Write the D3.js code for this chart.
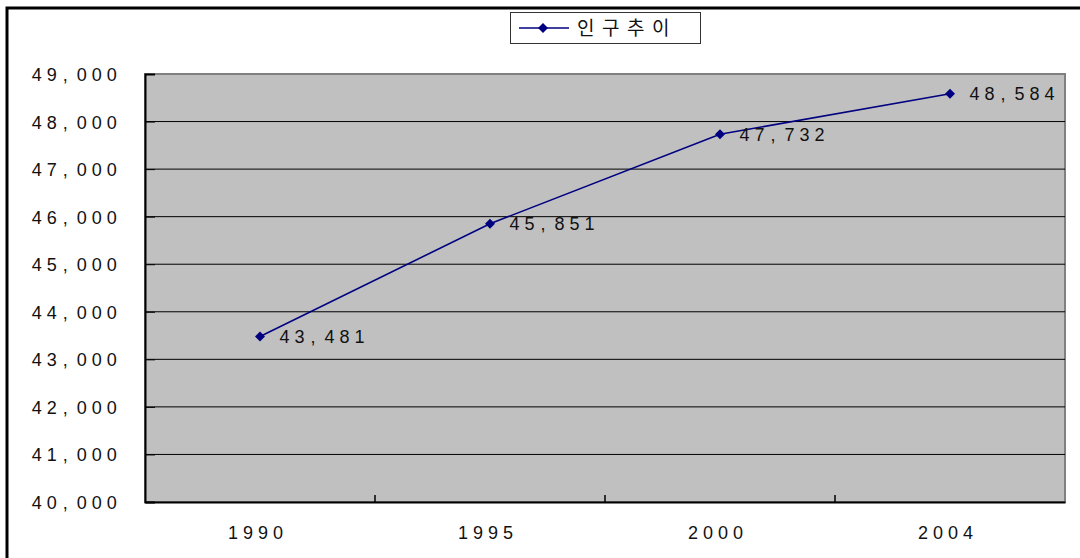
<!DOCTYPE html>
<html>
<head>
<meta charset="utf-8">
<script src="https://cdn.jsdelivr.net/npm/d3@7"></script>
<style>
  html, body { margin: 0; padding: 0; background: #fff; }
  svg { display: block; }
  text { font-family: "Liberation Sans", Arial, sans-serif; fill: #111; }
</style>
</head>
<body>
<svg id="chart" width="1080" height="558"></svg>
<script>
// Population trend (인구 추이)
const years = ["1990", "1995", "2000", "2004"];
const population = [43481, 45851, 47732, 48584];
const yTicks = [40000, 41000, 42000, 43000, 44000, 45000, 46000, 47000, 48000, 49000];
const seriesName = "인구추이";

const svg = d3.select("#chart");
const W = 1080, H = 558;
const plot = { left: 145, right: 1065, top: 74, bottom: 502 };
const PITCH = 15;          // fixed character cell width for numeric labels
const NUM_SIZE = "18px";

const x = d3.scaleBand().domain(years).range([plot.left, plot.right]).paddingInner(0).paddingOuter(0);
const y = d3.scaleLinear().domain([40000, 49000]).range([plot.bottom, plot.top]);
const fmt = d3.format(",");

// lay out a string in fixed-width cells; firstCenter = centre of first cell
function cells(textSel, str, firstCenter, yPos) {
  textSel.text(null)
    .style("font-size", NUM_SIZE)
    .attr("text-anchor", null);
  textSel.selectAll("tspan")
    .data(str.split(""))
    .join("tspan")
    .attr("x", (c, i) => firstCenter + i * PITCH + (c === "," ? -1.5 : 0))
    .attr("y", yPos)
    .attr("dy", "0.36em")
    .attr("text-anchor", "middle")
    .text(c => c);
}

// outer frame (top and left edges)
svg.append("path")
  .attr("d", `M7,${H} L7,8 L${W},8`)
  .attr("fill", "none").attr("stroke", "#000").attr("stroke-width", 3);

// plot background
svg.append("rect")
  .attr("x", plot.left).attr("y", plot.top)
  .attr("width", plot.right - plot.left).attr("height", plot.bottom - plot.top)
  .attr("fill", "#c0c0c0").attr("stroke", "#808080").attr("stroke-width", 2);

// horizontal gridlines
svg.append("g").selectAll("line")
  .data(yTicks.filter(v => v > 40000 && v < 49000))
  .join("line")
  .attr("x1", plot.left).attr("x2", plot.right)
  .attr("y1", d => y(d)).attr("y2", d => y(d))
  .attr("stroke", "#000").attr("stroke-width", 1);

// y axis
const yAxis = d3.axisLeft(y).tickValues(yTicks).tickSize(-10).tickFormat(fmt).tickPadding(0);
const gy = svg.append("g").attr("transform", `translate(${plot.left},0)`).call(yAxis);
gy.select(".domain").attr("stroke", "#000").attr("stroke-width", 2);
gy.selectAll(".tick line").attr("stroke", "#000");
gy.selectAll(".tick text").each(function (d) {
  const s = fmt(d);
  cells(d3.select(this), s, -33.3 - (s.length - 1) * PITCH, 0);
});

// x axis
const xAxis = d3.axisBottom(x).tickSize(0).tickPadding(0);
const gx = svg.append("g").attr("transform", `translate(0,${plot.bottom})`).call(xAxis);
gx.select(".domain").attr("stroke", "#000").attr("stroke-width", 2);
gx.selectAll(".tick text").each(function (d) {
  cells(d3.select(this), d, -4.5 - (d.length - 1) * PITCH / 2, 31);
});

// category boundary ticks
svg.append("g").selectAll("line")
  .data(years.slice(1))
  .join("line")
  .attr("x1", d => x(d)).attr("x2", d => x(d))
  .attr("y1", plot.bottom).attr("y2", plot.bottom - 7)
  .attr("stroke", "#000").attr("stroke-width", 1.5);

// series line
const cx = d => x(d) + x.bandwidth() / 2;
const line = d3.line().x((d, i) => cx(years[i])).y(d => y(d));
svg.append("path")
  .datum(population)
  .attr("d", line)
  .attr("fill", "none").attr("stroke", "#000080").attr("stroke-width", 1.6);

const marker = d3.symbol().type(d3.symbolSquare).size(50);
svg.append("g").selectAll("path")
  .data(population)
  .join("path")
  .attr("transform", (d, i) => `translate(${cx(years[i])},${y(d)}) rotate(45)`)
  .attr("d", marker)
  .attr("fill", "#000080");

// value labels
svg.append("g").selectAll("text")
  .data(population)
  .join("text")
  .each(function (d, i) {
    cells(d3.select(this), fmt(d), cx(years[i]) + 24.5, y(d));
  });

// legend
const lg = svg.append("g");
lg.append("rect")
  .attr("x", 510.5).attr("y", 12.5).attr("width", 190).attr("height", 31)
  .attr("fill", "#fff").attr("stroke", "#333").attr("stroke-width", 1);
lg.append("line")
  .attr("x1", 519).attr("x2", 569).attr("y1", 28).attr("y2", 28)
  .attr("stroke", "#000080").attr("stroke-width", 1.6);
lg.append("path")
  .attr("transform", "translate(543,28) rotate(45)")
  .attr("d", marker)
  .attr("fill", "#000080");
lg.append("text")
  .attr("x", 577).attr("y", 28).attr("dy", "0.36em")
  .style("font-family", "'Noto Sans CJK KR', sans-serif")
  .style("font-size", "19px").style("letter-spacing", "7.5px")
  .text(seriesName);
</script>
</body>
</html>
